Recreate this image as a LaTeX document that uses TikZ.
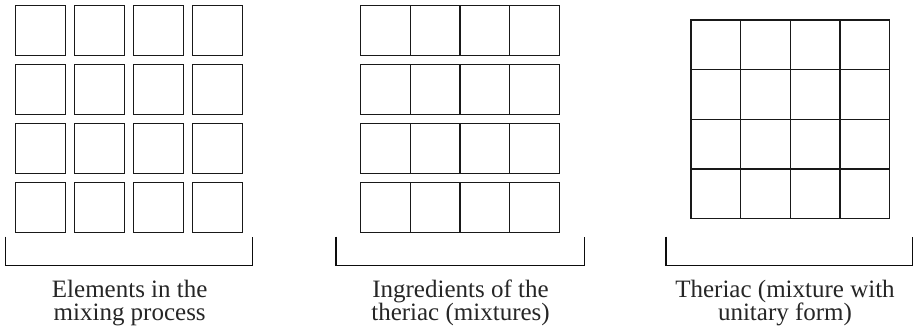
\documentclass[tikz,border=0pt]{standalone}
\usepackage{fontspec}
\setmainfont{Liberation Serif}
\begin{document}
\begin{tikzpicture}[x=1pt,y=-1pt,
  cell/.style={draw=black!90,line width=1.1pt,minimum width=50pt,minimum height=50pt,inner sep=0pt,outer sep=0pt,anchor=north west},
  gcell/.style={draw=black!90,line width=1.1pt,minimum width=49.7pt,minimum height=49.7pt,inner sep=0pt,outer sep=0pt,anchor=north west},
  brace/.style={draw=black!95,line width=1.5pt},
  lbl/.style={align=center,anchor=base,inner sep=0pt,font=\fontsize{25}{23}\selectfont,text=black!85}]
\useasboundingbox (0,0) rectangle (914,335);
% panel 1: separate squares
\foreach \i in {0,...,3}{
  \foreach \j in {0,...,3}{
    \node[cell] (a\i\j) at ({15.7+59*\i},{5.7+59*\j}) {};
  }
}
% panel 2: rows of joined cells
\foreach \i in {0,...,3}{
  \foreach \j in {0,...,3}{
    \node[gcell] (b\i\j) at ({360.7+49.65*\i},{5.7+59*\j}) {};
  }
}
% panel 3: unitary grid
\foreach \i in {0,...,3}{
  \foreach \j in {0,...,3}{
    \node[gcell] (c\i\j) at ({691+49.67*\i},{20+49.67*\j}) {};
  }
}
% brackets
\coordinate (p1a) at (5.3,236.7);   \coordinate (p1b) at (252.7,236.7);
\coordinate (p2a) at (336,236.7);   \coordinate (p2b) at (584.3,236.7);
\coordinate (p3a) at (666,236.7);   \coordinate (p3b) at (912.3,236.7);
\draw[brace] (p1a) -- ++(0,29) -| (p1b);
\draw[brace] (p2a) -- ++(0,29) -| (p2b);
\draw[brace] (p3a) -- ++(0,29) -| (p3b);
% labels
\node[lbl] (t1) at (129.7,320) {Elements in the\\mixing process};
\node[lbl] (t2) at (460.5,320) {Ingredients of the\\theriac (mixtures)};
\node[lbl] (t3) at (785,320) {Theriac (mixture with\\unitary form)};
\end{tikzpicture}
\end{document}
